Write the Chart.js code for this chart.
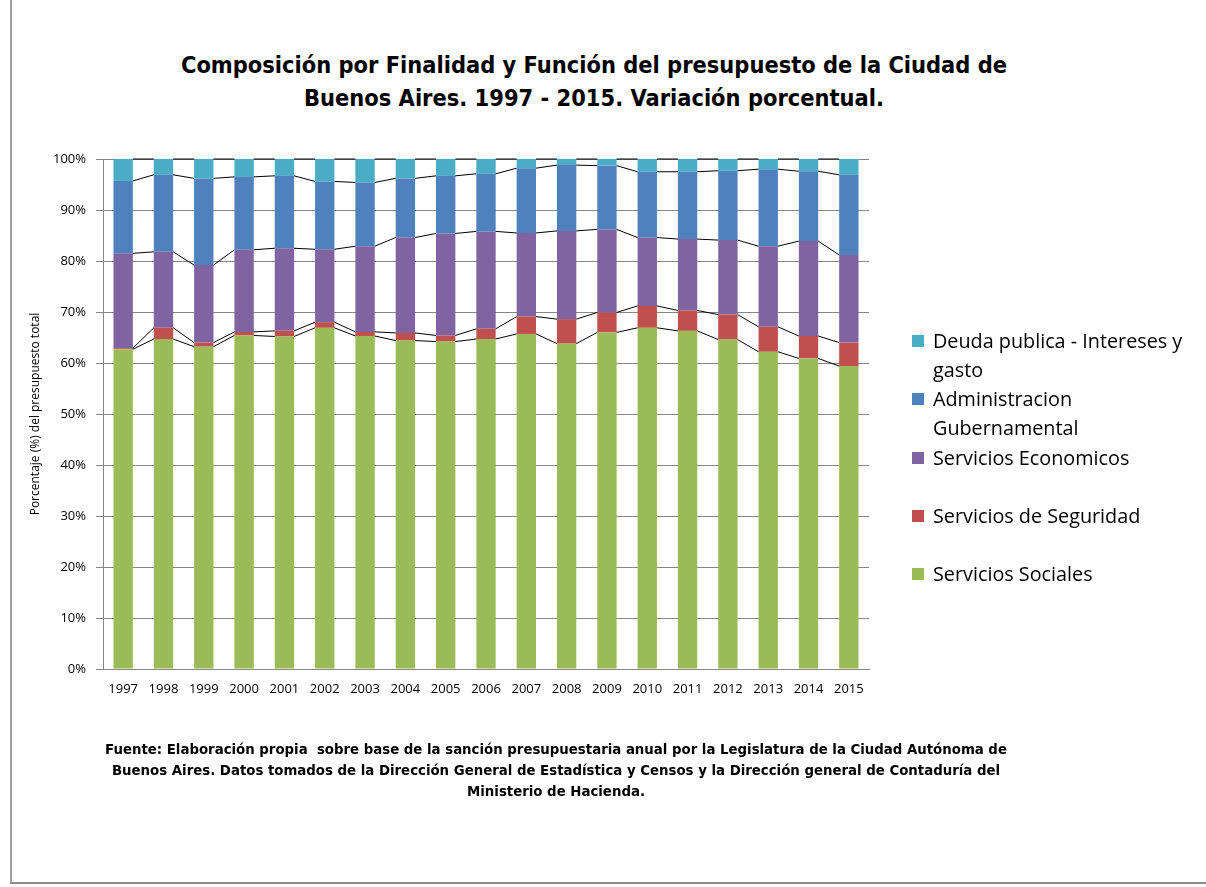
<!DOCTYPE html>
<html>
<head>
<meta charset="utf-8">
<script src="https://cdn.jsdelivr.net/npm/chart.js@4"></script>
<style>
  html, body { margin: 0; padding: 0; background: #fff; }
  #wrap { position: relative; width: 1206px; height: 887px; overflow: hidden; }
  #frame { position: absolute; left: 10px; top: 0; width: 1200px; height: 884px;
           border-left: 2px solid #a0a0a0; border-bottom: 2px solid #8c8c8c; box-sizing: border-box; }
  #title { position: absolute; left: 94px; width: 1000px; top: 49px; text-align: center;
           font: bold 23.4px "Liberation Sans Narrow", "DejaVu Sans Condensed", sans-serif; line-height: 33px; color: #000; }
  #note { position: absolute; left: 56px; width: 1000px; top: 738px; text-align: center;
          font: bold 14.8px "Liberation Sans Narrow", "DejaVu Sans Condensed", sans-serif; line-height: 21px; color: #000; }
  #legend { position: absolute; left: 912px; top: 326px; width: 292px; }
  .item { position: relative; height: 58.3px; }
  .box { position: absolute; left: 0; top: 9px; width: 12px; height: 12px; }
  .txt { position: absolute; left: 21px; top: 0; width: 266px;
         font: 19.8px "Open Sans", sans-serif; line-height: 29px; color: #000; }
  canvas { position: absolute; left: 0; top: 0; }
</style>
</head>
<body>
<div id="wrap">
  <div id="frame"></div>
  <div id="title">Composición por Finalidad y Función del presupuesto de la Ciudad de<br>Buenos Aires. 1997 - 2015. Variación porcentual.</div>
  <canvas id="c" width="1206" height="887"></canvas>
  <div id="legend"></div>
  <div id="note">Fuente: Elaboración propia&nbsp; sobre base de la sanción presupuestaria anual por la Legislatura de la Ciudad Autónoma de<br>Buenos Aires. Datos tomados de la Dirección General de Estadística y Censos y la Dirección general de Contaduría del<br>Ministerio de Hacienda.</div>
</div>
<script>
const years = ['1997', '1998', '1999', '2000', '2001', '2002', '2003', '2004', '2005', '2006',
               '2007', '2008', '2009', '2010', '2011', '2012', '2013', '2014', '2015'];

// % del presupuesto total
const sociales   = [62.7, 64.7, 63.2, 65.4, 65.2, 66.9, 65.3, 64.4, 64.2, 64.7, 65.7, 63.8, 66.0, 66.9, 66.3, 64.6, 62.2, 60.9, 59.4];
const seguridad  = [0.2, 2.2, 0.8, 0.7, 1.1, 1.1, 0.8, 1.5, 1.2, 2.0, 3.4, 4.8, 3.9, 4.3, 4.0, 4.9, 4.9, 4.4, 4.6];
const economicos = [18.6, 14.9, 15.2, 16.1, 16.2, 14.3, 16.8, 18.7, 20.0, 19.1, 16.4, 17.3, 16.3, 13.4, 14.0, 14.6, 15.8, 18.6, 17.2];
const administracion = [14.2, 15.1, 17.0, 14.3, 14.2, 13.3, 12.5, 11.6, 11.3, 11.3, 12.7, 12.9, 12.5, 12.9, 13.2, 13.6, 15.1, 13.7, 15.7];
const deuda      = [4.3, 3.1, 3.8, 3.5, 3.3, 4.4, 4.6, 3.8, 3.3, 2.9, 1.8, 1.2, 1.3, 2.5, 2.5, 2.3, 2.0, 2.4, 3.1];

const yTicks = [0, 10, 20, 30, 40, 50, 60, 70, 80, 90, 100];

const tickFont = { family: '"Open Sans", sans-serif', size: 13 };

// lineas de serie entre barras (como en Excel)
const seriesLines = {
    id: 'seriesLines',
    afterDatasetsDraw(chart) {
        const ctx = chart.ctx;
        ctx.save();
        ctx.strokeStyle = '#000';
        ctx.lineWidth = 1;
        chart.data.datasets.forEach((ds, d) => {
            const bars = chart.getDatasetMeta(d).data;
            ctx.beginPath();
            for (let i = 0; i < bars.length - 1; i++) {
                const a = bars[i], b = bars[i + 1];
                ctx.moveTo(a.x + a.width / 2, a.y);
                ctx.lineTo(b.x - b.width / 2, b.y);
            }
            ctx.stroke();
        });
        ctx.restore();
    }
};

const chart = new Chart(document.getElementById('c'), {
    type: 'bar',
    data: {
        labels: years,
        datasets: [
            { label: 'Servicios Sociales', data: sociales, backgroundColor: '#9BBB59' },
            { label: 'Servicios de Seguridad', data: seguridad, backgroundColor: '#C0504D' },
            { label: 'Servicios Economicos', data: economicos, backgroundColor: '#8064A2' },
            { label: 'Administracion Gubernamental', data: administracion, backgroundColor: '#4F81BD' },
            { label: 'Deuda publica - Intereses y gasto', data: deuda, backgroundColor: '#4BACC6' }
        ]
    },
    options: {
        responsive: false,
        animation: false,
        events: [],
        categoryPercentage: 1,
        barPercentage: 0.48,
        layout: { padding: { top: 159, right: 337, bottom: 178, left: 0 } },
        plugins: {
            legend: { display: false },
            tooltip: { enabled: false }
        },
        scales: {
            x: {
                stacked: true,
                grid: { display: false, drawTicks: false },
                border: { color: '#868686' },
                ticks: { color: '#000', font: tickFont, padding: 12, maxRotation: 0 },
                afterFit: s => { s.height = 40; }
            },
            y: {
                stacked: true,
                min: 0,
                max: 100,
                afterBuildTicks: s => { s.ticks = yTicks.map(v => ({ value: v })); },
                grid: { color: '#868686', tickLength: 7 },
                border: { color: '#868686' },
                ticks: { color: '#000', font: tickFont, padding: 10, callback: v => v + '%' },
                title: {
                    display: true,
                    text: 'Porcentaje (%) del presupuesto total',
                    color: '#000',
                    font: { family: '"Open Sans", sans-serif', size: 12 },
                    padding: { top: 28, bottom: 0 }
                },
                afterFit: s => { s.width = 103; }
            }
        }
    },
    plugins: [seriesLines]
});

// leyenda a la derecha, en orden inverso
const legend = document.getElementById('legend');
chart.data.datasets.slice().reverse().forEach(ds => {
    const item = document.createElement('div');
    item.className = 'item';
    item.innerHTML = '<div class="box" style="background:' + ds.backgroundColor + '"></div><div class="txt">' + ds.label + '</div>';
    legend.appendChild(item);
});
</script>
</body>
</html>
